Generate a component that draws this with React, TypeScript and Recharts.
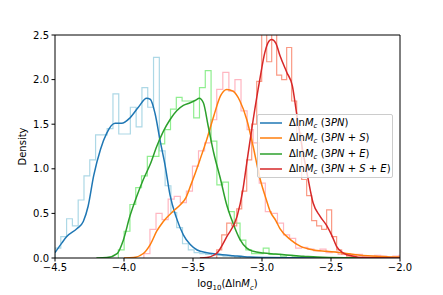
import { ComposedChart, Line, XAxis, YAxis, Legend, ReferenceLine } from "recharts"

const xTicks = [-4.5, -4.0, -3.5, -3.0, -2.5, -2.0]
const yTicks = [0, 0.5, 1.0, 1.5, 2.0, 2.5]

const models = ["3PN", "3PN + S", "3PN + E", "3PN + S + E"]
const kdeColors = ["#1f77b4", "#ff7f0e", "#2ca02c", "#d62728"]
const histColors = ["#add8e6", "#ffb6c1", "#90ee90", "#fa9a85"]

// KDE curves (x = log10 of the error, y = density)
const kde3pnX = [-4.5, -4.45, -4.415, -4.34, -4.295, -4.26, -4.22, -4.17, -4.125, -4.065, -4.017, -3.957, -3.896, -3.836, -3.81, -3.775, -3.74, -3.7, -3.667, -3.62, -3.57, -3.52, -3.47, -3.4, -3.33, -3.21, -3.09, -2.95, -2.8, -2.5, -2.0]
const kde3pnY = [0.06, 0.17, 0.24, 0.33, 0.41, 0.58, 0.92, 1.22, 1.4, 1.51, 1.51, 1.57, 1.69, 1.79, 1.78, 1.62, 1.33, 1.02, 0.71, 0.45, 0.26, 0.15, 0.09, 0.06, 0.045, 0.026, 0.01, 0.005, 0.002, 0, 0]

const kde3pnSX = [-4.0, -3.93, -3.86, -3.81, -3.763, -3.715, -3.64, -3.59, -3.55, -3.52, -3.45, -3.4, -3.35, -3.3, -3.255, -3.21, -3.16, -3.11, -3.064, -3.016, -2.97, -2.94, -2.9, -2.87, -2.79, -2.72, -2.63, -2.53, -2.41, -2.29, -2.17, -2.03, -2.0]
const kde3pnSY = [0, 0.005, 0.05, 0.15, 0.3, 0.41, 0.53, 0.6, 0.68, 0.8, 1.1, 1.33, 1.59, 1.82, 1.89, 1.87, 1.76, 1.55, 1.25, 0.9, 0.66, 0.52, 0.42, 0.33, 0.2, 0.13, 0.09, 0.075, 0.056, 0.03, 0.02, 0.01, 0.01]

const kde3pnEX = [-4.2, -4.125, -4.05, -4.005, -3.957, -3.908, -3.86, -3.81, -3.763, -3.715, -3.667, -3.618, -3.57, -3.52, -3.48, -3.455, -3.425, -3.39, -3.35, -3.3, -3.26, -3.21, -3.16, -3.11, -3.064, -2.99, -2.9, -2.8, -2.7, -2.6, -2.4, -2.0]
const kde3pnEY = [0, 0.005, 0.05, 0.2, 0.47, 0.69, 0.88, 1.05, 1.25, 1.42, 1.55, 1.65, 1.71, 1.74, 1.77, 1.79, 1.74, 1.48, 1.18, 0.88, 0.62, 0.39, 0.21, 0.11, 0.075, 0.056, 0.045, 0.03, 0.02, 0.01, 0.003, 0]

const kde3pnSEX = [-3.45, -3.4, -3.33, -3.255, -3.18, -3.14, -3.11, -3.064, -3.016, -2.98, -2.95, -2.93, -2.9, -2.87, -2.82, -2.78, -2.75, -2.71, -2.67, -2.63, -2.58, -2.53, -2.49, -2.46, -2.41, -2.34, -2.27, -2.0]
const kde3pnSEY = [0, 0.005, 0.05, 0.24, 0.47, 0.75, 1.07, 1.55, 2.0, 2.3, 2.43, 2.45, 2.41, 2.27, 2.08, 1.93, 1.63, 1.25, 0.92, 0.62, 0.47, 0.36, 0.24, 0.13, 0.056, 0.02, 0.005, 0]

// histograms: first bin edge, bin width, bin heights
const hist3pnStart = -4.5
const hist3pnWidth = 0.042
const hist3pnHeights = [0.11, 0.24, 0.44, 0.36, 0.65, 0.92, 1.1, 1.38, 1.38, 1.45, 1.84, 1.39, 1.39, 1.69, 1.47, 1.91, 1.69, 2.25, 1.2, 0.81, 0.51, 0.34, 0.16, 0.09, 0.06, 0.05, 0.04, 0.03, 0.03, 0.02, 0.02, 0.01]

const hist3pnSStart = -3.856
const hist3pnSWidth = 0.044
const hist3pnSHeights = [0.05, 0.32, 0.5, 0.43, 0.66, 0.69, 0.62, 0.75, 1.03, 1.2, 1.29, 1.55, 1.89, 2.08, 1.87, 2.0, 1.65, 1.44, 1.29, 0.84, 0.52, 0.5, 0.39, 0.26, 0.22, 0.11, 0.12, 0.1, 0.08, 0.1, 0.06, 0.07, 0.04, 0.05, 0.03, 0.04, 0.02, 0.02, 0.03, 0.02, 0.01, 0.02, 0.03]

const hist3pnEStart = -4.041
const hist3pnEWidth = 0.042
const hist3pnEHeights = [0.09, 0.3, 0.6, 0.79, 0.92, 1.14, 1.14, 1.28, 1.44, 1.67, 1.8, 1.76, 1.76, 1.57, 1.91, 2.1, 1.31, 0.82, 0.85, 0.52, 0.39, 0.2, 0.09, 0.05, 0.05, 0.11, 0.04, 0.04, 0.02, 0.03, 0.02, 0.01]

const hist3pnSEStart = -3.328
const hist3pnSEWidth = 0.0362
const hist3pnSEHeights = [0.09, 0.26, 0.39, 0.36, 0.55, 0.75, 1.1, 1.5, 1.98, 2.6, 2.2, 2.55, 2.05, 2.0, 2.36, 1.76, 1.4, 0.88, 0.7, 0.42, 0.36, 0.32, 0.54, 0.24, 0.09, 0.04, 0.02, 0.01]

const FONT = "DejaVu Sans"
const FS = 10

const toPoints = (xs: number[], ys: number[]) => xs.map((x, i) => ({ x, y: ys[i] }))

// outline of a step histogram: up at the first edge, down at the last one
const toSteps = (start: number, width: number, heights: number[]) => {
  const pts = [{ x: start, y: 0 }]
  heights.forEach((h, i) => pts.push({ x: start + i * width, y: h }))
  pts.push({ x: start + heights.length * width, y: 0 })
  return pts
}

const hists = [
  toSteps(hist3pnStart, hist3pnWidth, hist3pnHeights),
  toSteps(hist3pnSStart, hist3pnSWidth, hist3pnSHeights),
  toSteps(hist3pnEStart, hist3pnEWidth, hist3pnEHeights),
  toSteps(hist3pnSEStart, hist3pnSEWidth, hist3pnSEHeights),
]
const kdes = [
  toPoints(kde3pnX, kde3pnY),
  toPoints(kde3pnSX, kde3pnSY),
  toPoints(kde3pnEX, kde3pnEY),
  toPoints(kde3pnSEX, kde3pnSEY),
]

const fmt = (v: number) => (v < 0 ? "\u2212" : "") + Math.abs(v).toFixed(1)

// letters italic, digits and "+" upright, like mathtext
function ModelText({ s }: { s: string }) {
  return (
    <>
      {s.split("").map((ch, i) =>
        /[A-Z]/.test(ch) ? <i key={i}>{ch}</i> : <span key={i}>{ch}</span>
      )}
    </>
  )
}

function LegendBox() {
  return (
    <div
      style={{
        background: "rgba(255,255,255,0.8)",
        border: "1px solid #cccccc",
        borderRadius: 2,
        boxSizing: "border-box",
        width: 136,
        height: 64,
        fontFamily: FONT,
        fontSize: FS,
        color: "#000",
      }}
    >
      {models.map((m, i) => (
        <div key={m} style={{ height: 15.5, display: "flex", alignItems: "center", lineHeight: 1 }}>
          <svg width={22} height={4} style={{ marginLeft: 2, marginRight: 7, flex: "none" }}>
            <line x1={0} y1={2} x2={22} y2={2} stroke={kdeColors[i]} strokeWidth={1.5} />
          </svg>
          <span style={{ whiteSpace: "nowrap" }}>
            Δln<i>M</i>
            <i style={{ fontSize: "0.7em", position: "relative", top: "0.25em" }}>c</i> (
            <ModelText s={m} />)
          </span>
        </div>
      ))}
    </div>
  )
}

function XLabel(props: any) {
  const { x, y, width } = props.viewBox
  return (
    <text x={x + width / 2} y={y + 29} textAnchor="middle" fontFamily={FONT} fontSize={FS} fill="#000">
      log
      <tspan fontSize={FS * 0.7} dy={2.5}>10</tspan>
      <tspan dy={-2.5}>(Δln</tspan>
      <tspan fontStyle="italic">M</tspan>
      <tspan fontSize={FS * 0.7} dy={2.5} fontStyle="italic">c</tspan>
      <tspan dy={-2.5}>)</tspan>
    </text>
  )
}

function YLabel(props: any) {
  const { y, height } = props.viewBox
  const cx = 22
  const cy = y + height / 2
  return (
    <text
      x={cx}
      y={cy}
      transform={`rotate(-90, ${cx}, ${cy})`}
      textAnchor="middle"
      dominantBaseline="central"
      fontFamily={FONT}
      fontSize={FS}
      fill="#000"
    >
      Density
    </text>
  )
}

export default function App() {
  return (
    <div style={{ position: "absolute", left: 0, top: 0, background: "#fff" }}>
      <ComposedChart width={443} height={295} margin={{ top: 35, right: 43, bottom: 0, left: 0 }}>
        <XAxis
          type="number"
          dataKey="x"
          domain={[-4.5, -2.0]}
          ticks={xTicks}
          allowDataOverflow
          tickFormatter={fmt}
          height={37}
          tickSize={3.5}
          tickMargin={2}
          stroke="#000"
          tick={{ fontSize: FS, fontFamily: FONT, fill: "#000" }}
          label={<XLabel />}
        />
        <YAxis
          type="number"
          dataKey="y"
          domain={[0, 2.5]}
          ticks={yTicks}
          allowDataOverflow
          tickFormatter={(v: number) => v.toFixed(1)}
          width={55}
          tickSize={3.5}
          tickMargin={2.5}
          stroke="#000"
          tick={{ fontSize: FS, fontFamily: FONT, fill: "#000" }}
          label={<YLabel />}
        />
        {hists.map((d, i) => (
          <Line
            key={"h" + i}
            data={d}
            dataKey="y"
            type="stepAfter"
            stroke={histColors[i]}
            strokeWidth={1.2}
            dot={false}
            activeDot={false}
            isAnimationActive={false}
            legendType="none"
          />
        ))}
        {kdes.map((d, i) => (
          <Line
            key={"k" + i}
            data={d}
            dataKey="y"
            type="monotone"
            stroke={kdeColors[i]}
            strokeWidth={1.5}
            dot={false}
            activeDot={false}
            isAnimationActive={false}
          />
        ))}
        <ReferenceLine y={2.5} stroke="#000" strokeWidth={1} />
        <ReferenceLine x={-2.0} stroke="#000" strokeWidth={1} />
        <Legend
          layout="vertical"
          align="center"
          verticalAlign="middle"
          content={() => <LegendBox />}
          wrapperStyle={{ left: 257, top: 114, width: 136, height: 64 }}
        />
      </ComposedChart>
    </div>
  )
}
